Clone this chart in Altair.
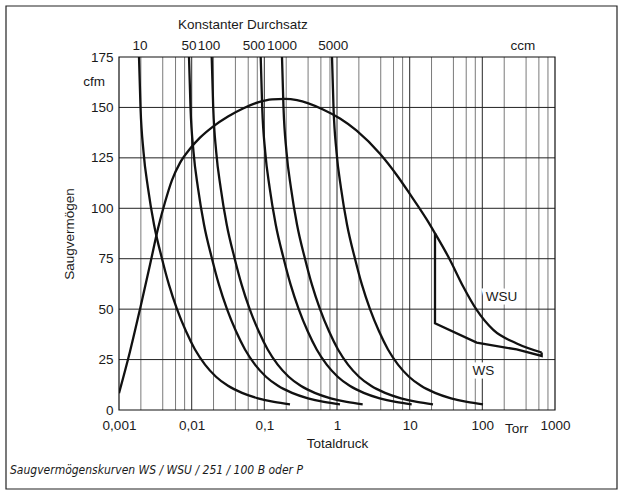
import altair as alt
import pandas as pd

# ---------------- data ----------------
# constant throughput curves (ccm): pumping speed levels (cfm) and pressure (Torr)
S_levels = [175, 150, 128, 110, 92, 75, 62, 50, 39, 30, 22.5, 16.5, 12, 8.5, 5.8, 4.0, 2.8]
p_10 = [0.001885, 0.001977, 0.002174, 0.002507, 0.003032, 0.003907, 0.004877, 0.006284,
        0.00836, 0.01111, 0.01526, 0.02162, 0.03162, 0.0493, 0.08183, 0.1358, 0.2255]
p_50 = [0.00919, 0.009638, 0.0106, 0.01222, 0.01478, 0.01905, 0.02378, 0.03064,
        0.04076, 0.05418, 0.0744, 0.1054, 0.1542, 0.2403, 0.3989, 0.6621, 1.0995]
p_100 = [0.01887, 0.01979, 0.02176, 0.0251, 0.03035, 0.03911, 0.04881, 0.06289,
         0.08367, 0.1112, 0.1527, 0.2164, 0.3165, 0.4934, 0.819, 1.359, 2.257]
p_500 = [0.08912, 0.09346, 0.1028, 0.1185, 0.1434, 0.1847, 0.2306, 0.2971,
         0.3952, 0.5254, 0.7215, 1.022, 1.495, 2.331, 3.869, 6.421, 10.66]
p_1000 = [0.175, 0.1835, 0.2018, 0.2328, 0.2815, 0.3627, 0.4528, 0.5834,
          0.7761, 1.032, 1.417, 2.007, 2.936, 4.576, 7.597, 12.61, 20.94]
p_5000 = [0.8535, 0.8951, 0.9843, 1.135, 1.373, 1.769, 2.208, 2.845,
          3.785, 5.032, 6.909, 9.79, 14.32, 22.32, 37.05, 61.5, 102.1]
flow_names = ["10", "50", "100", "500", "1000", "5000"]
flow_curves = [p_10, p_50, p_100, p_500, p_1000, p_5000]

# WS / WSU pump curve (rise, dome and WSU branch)
ws_p = [0.001, 0.001417, 0.001945, 0.002671, 0.003441, 0.004296, 0.005362, 0.006908,
        0.009485, 0.01302, 0.01966, 0.03162, 0.05086, 0.0818, 0.1275, 0.1925, 0.2815,
        0.6417, 1.0995, 1.866, 3.906, 6.629, 10.10, 17.15, 22.31, 35.89, 54.69,
        83.59, 141.5, 296.9, 655.6]
ws_s = [8.3, 29, 50, 72, 90, 103, 114, 122.5,
        129.5, 135, 140.5, 145.5, 149.5, 152.5, 154, 154.2, 153.6,
        149, 144.5, 138.5, 127, 116.5, 107, 94.5, 87.6, 74.4, 61.1,
        49.6, 39.7, 33, 28.5]
# WS branch (closing path back to the jump)
wsl_p = [655.6, 655.6, 296.9, 83.59, 22.31, 22.31]
wsl_s = [28.5, 26.8, 30, 33.4, 43, 87.6]

x_ticks = [0.001, 0.01, 0.1, 1, 10, 100, 1000]
x_tick_labels = ["0,001", "0,01", "0,1", "1", "10", "100", "1000"]
y_ticks = [0, 25, 50, 75, 100, 125, 150, 175]
grid_x = [0.002, 0.004, 0.006, 0.008,
          0.02, 0.04, 0.06, 0.08,
          0.2, 0.4, 0.6, 0.8,
          2, 4, 6, 8,
          20, 40, 60, 80,
          200, 400, 600, 800]
grid_x_decade = [0.01, 0.1, 1, 10, 100]
grid_y = [25, 50, 75, 100, 125, 150]

top_labels = ["10", "50", "100", "500", "1000", "5000", "ccm"]
top_label_p = [0.00194, 0.00918, 0.0173, 0.0721, 0.175, 0.89, 362]

curve_labels = ["WSU", "WS"]
curve_label_p = [184, 103]
curve_label_s = [56.2, 19.3]

# ---------------- tables ----------------
rows = []
for name, ps in zip(flow_names, flow_curves):
    for i, (p, s) in enumerate(zip(ps, S_levels)):
        rows.append({"curve": name, "p": p, "S": s, "o": i})
flow_df = pd.DataFrame(rows)
ws_df = pd.DataFrame({"p": ws_p, "S": ws_s, "o": range(len(ws_p))})
wsl_df = pd.DataFrame({"p": wsl_p, "S": wsl_s, "o": range(len(wsl_p))})
gx_df = pd.DataFrame({"p": grid_x})
gxd_df = pd.DataFrame({"p": grid_x_decade})
gy_df = pd.DataFrame({"S": grid_y})
top_df = pd.DataFrame({"t": top_labels, "p": top_label_p})
cl_df = pd.DataFrame({"t": curve_labels, "p": curve_label_p, "S": curve_label_s})

W, H = 436, 353
FONT = "Liberation Sans"
FS = 13.5
INK = "#1a1a1a"

label_map = "{" + ",".join(f"'{v}':'{l}'" for v, l in zip(x_ticks, x_tick_labels)) + "}"

xscale = alt.Scale(type="log", domain=[0.001, 1000], nice=False)
yscale = alt.Scale(domain=[0, 175], nice=False)

x_enc = alt.X("p:Q", scale=xscale,
              axis=alt.Axis(values=x_ticks, labelExpr=f"{label_map}[toString(datum.value)] || datum.label",
                            title="Totaldruck", grid=False, ticks=False, domain=False,
                            labelPadding=8, titlePadding=5, labelFont=FONT, labelFontSize=FS,
                            titleFont=FONT, titleFontSize=FS, titleFontWeight="normal",
                            labelColor=INK, titleColor=INK, labelFlush=False))
y_enc = alt.Y("S:Q", scale=yscale,
              axis=alt.Axis(values=y_ticks, title="Saugvermögen", grid=False, ticks=False,
                            domain=False, labelPadding=6, titlePadding=14, labelFont=FONT,
                            labelFontSize=FS, titleFont=FONT, titleFontSize=FS,
                            titleFontWeight="normal", labelColor=INK, titleColor=INK))

vgrid = alt.Chart(gx_df).mark_rule(color="#7a7a7a", strokeWidth=1).encode(x=x_enc)
vgrid_d = alt.Chart(gxd_df).mark_rule(color="#3a3a3a", strokeWidth=1.1).encode(x=x_enc)
hgrid = alt.Chart(gy_df).mark_rule(color="#222222", strokeWidth=1).encode(y=y_enc)

flow = alt.Chart(flow_df).mark_line(color="#111", strokeWidth=2.3, interpolate="monotone",
                                    clip=True).encode(
    x=x_enc, y=y_enc, detail="curve:N", order="o:Q")
ws = alt.Chart(ws_df).mark_line(color="#111", strokeWidth=2.3, interpolate="monotone",
                                clip=True).encode(x=x_enc, y=y_enc, order="o:Q")
wsl = alt.Chart(wsl_df).mark_line(color="#111", strokeWidth=2.3, clip=True).encode(
    x=x_enc, y=y_enc, order="o:Q")

halo = alt.Chart(cl_df).mark_text(font=FONT, fontSize=FS, color="white", stroke="white",
                                  strokeWidth=7).encode(x=x_enc, y=y_enc, text="t:N")
clabels = alt.Chart(cl_df).mark_text(font=FONT, fontSize=FS, color=INK).encode(
    x=x_enc, y=y_enc, text="t:N")

top = alt.Chart(top_df).mark_text(font=FONT, fontSize=FS, color=INK, baseline="middle").encode(
    x=x_enc, y=alt.value(-11), text="t:N")

base = alt.Chart(pd.DataFrame({"a": [0]}))
konst = base.transform_calculate(p="0.0508").mark_text(
    font=FONT, fontSize=FS, color=INK, baseline="middle").encode(
    x=x_enc, y=alt.value(-32), text=alt.value("Konstanter Durchsatz"))
cfm = base.mark_text(font=FONT, fontSize=FS, color=INK, baseline="middle", align="center").encode(
    x=alt.value(-25), y=alt.value(25), text=alt.value("cfm"))
torr = base.transform_calculate(p="297").mark_text(
    font=FONT, fontSize=FS, color=INK, baseline="middle").encode(
    x=x_enc, y=alt.value(372), text=alt.value("Torr"))
caption = base.mark_text(font="Liberation Sans Narrow, DejaVu Sans Condensed", fontSize=12,
                         fontStyle="italic", color=INK, align="left", baseline="middle").encode(
    x=alt.value(-109), y=alt.value(413), text=alt.value("Saugvermögenskurven WS / WSU / 251 / 100 B oder P"))
frame = base.mark_rect(fill=None, stroke="#222", strokeWidth=1.2).encode(
    x=alt.value(-113), x2=alt.value(498), y=alt.value(-51), y2=alt.value(432))
plotframe = base.mark_rect(fill=None, stroke="#111", strokeWidth=1.2).encode(
    x=alt.value(0), x2=alt.value(W), y=alt.value(0), y2=alt.value(H))

chart = alt.layer(
    vgrid, vgrid_d, hgrid, flow, ws, wsl, halo, clabels, top, konst, cfm, torr, caption, frame, plotframe
).properties(
    width=W, height=H,
    autosize=alt.AutoSizeParams(type="none"),
    padding={"left": 119, "top": 57, "right": 69, "bottom": 85},
    background="white",
).configure_view(stroke=None)

chart.save("out.html", embed_options={"renderer": "svg", "actions": False})
